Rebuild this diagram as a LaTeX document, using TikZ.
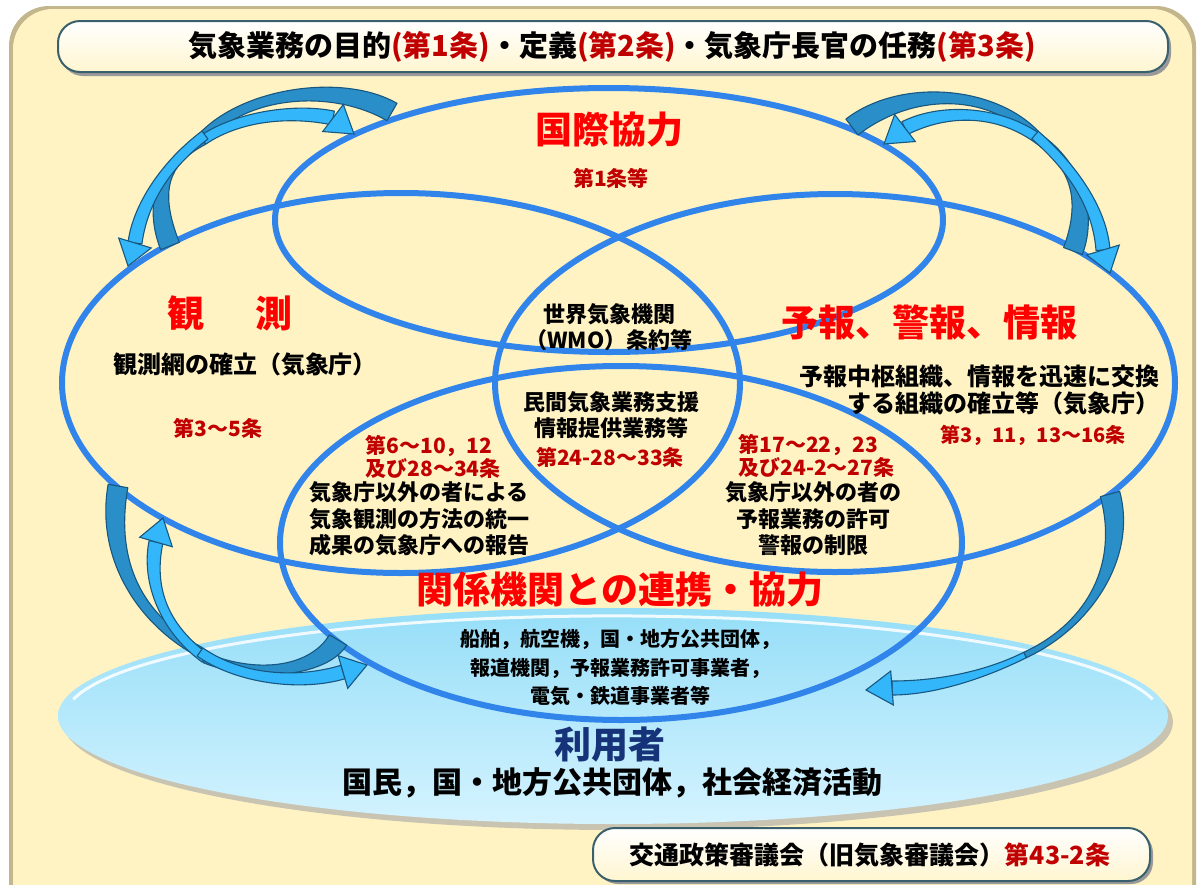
\documentclass[tikz,border=0pt]{standalone}
\usepackage{fontspec}
\setmainfont{Noto Sans CJK JP}
\usetikzlibrary{calc}
\definecolor{cream}{RGB}{255,243,196}
\definecolor{panelshadow}{RGB}{196,182,140}
\definecolor{ellblue}{RGB}{48,132,234}
\definecolor{tred}{RGB}{255,0,0}
\definecolor{dred}{RGB}{192,0,0}
\definecolor{navy}{RGB}{22,50,120}
\definecolor{arrdark}{RGB}{42,142,200}
\definecolor{arrlight}{RGB}{52,182,250}
\definecolor{arrline}{RGB}{24,88,128}
\definecolor{cyanT}{RGB}{150,222,248}
\definecolor{cyanB}{RGB}{212,243,255}
\definecolor{boxedge}{RGB}{58,96,110}
% tapered band: P0, C1, C2, P3, half-width at P0, half-width at P3, colour
\newcommand\taper[7]{\filldraw[fill=#7, draw=arrline, line width=1.1pt, line join=round]
  ($(#1)!#5!90:(#2)$) .. controls ($(#2)!#5!-90:(#1)$) and ($(#3)!#6!90:(#4)$) .. ($(#4)!#6!-90:(#3)$)
  -- ($(#4)!#6!90:(#3)$) .. controls ($(#3)!#6!-90:(#4)$) and ($(#2)!#5!90:(#1)$) .. ($(#1)!#5!-90:(#2)$) -- cycle;}
\newcommand\arrhead[2]{\filldraw[fill=arrlight, draw=arrline, line width=1.1pt, line join=miter] (#2) -- ($(#1)!17pt!90:(#2)$) -- ($(#1)!17pt!-90:(#2)$) -- cycle;}
\begin{document}
\begin{tikzpicture}[x=1pt,y=-1pt,
  ell/.style={draw=ellblue, line width=6pt},
  bigred/.style={text=tred, font=\bfseries\fontsize{37}{40}\selectfont},
  art/.style={text=dred, font=\bfseries\fontsize{21}{23}\selectfont, align=left},
  body/.style={text=black, font=\bfseries\fontsize{22}{26.5}\selectfont, align=center},
  boxsty/.style={draw=boxedge, line width=2pt, top color=white, bottom color=cream!80!white, rounded corners=22pt}]
\useasboundingbox (0,0) rectangle (1200,884);
\fill[white] (0,0) rectangle (1200,884);
% panel
\fill[panelshadow, rounded corners=40pt] (9,6) rectangle (1196,930);
\fill[cream, rounded corners=40pt] (13,9) rectangle (1192,930);
% title box
\fill[black!40, rounded corners=22pt] (61,24) rectangle (1171,76);
\draw[boxsty] (58,21) rectangle (1168,72);
\node (title) at (612,47) {\bfseries\fontsize{29}{31}\selectfont 気象業務の目的\textcolor{dred}{(第1条)}・定義\textcolor{dred}{(第2条)}・気象庁長官の任務\textcolor{dred}{(第3条)}};
% user disc
\fill[black!35, opacity=0.6] (618,722) ellipse [x radius=555, y radius=108];
\shade[top color=cyanT, bottom color=cyanB] (613,716) ellipse [x radius=555, y radius=108];
\draw[white, line width=3pt, opacity=0.85] (73.3,699.4) arc[start angle=190, end angle=350, x radius=548, y radius=101];
% ellipses
\draw[ell] (609,220) ellipse [x radius=334, y radius=132];
\draw[ell] (401,383) ellipse [x radius=339, y radius=190];
\draw[ell] (835,383) ellipse [x radius=340, y radius=189];
\draw[ell] (621,543) ellipse [x radius=341, y radius=177];
% arrows top-left
\taper{392,112}{340,82}{250,90}{205,135}{10pt}{5pt}{arrdark}
\taper{170,246}{150,195}{165,160}{203,140}{10pt}{5pt}{arrdark}
\taper{203,140}{240,115}{295,110}{333,118}{5pt}{7pt}{arrlight}
\taper{205,135}{165,165}{140,205}{135,243}{5pt}{7pt}{arrlight}
\arrhead{333,118}{354,134}
\arrhead{135,243}{128,266}
% arrows top-right
\taper{852,127}{905,86}{990,88}{1035,135}{10pt}{5pt}{arrdark}
\taper{1073,251}{1090,205}{1075,165}{1040,140}{10pt}{5pt}{arrdark}
\taper{1040,140}{1000,110}{945,108}{905,128}{5pt}{7pt}{arrlight}
\taper{1035,135}{1075,170}{1100,210}{1103,250}{5pt}{7pt}{arrlight}
\arrhead{905,128}{884,144}
\arrhead{1103,250}{1110,273}
% arrows bottom-left
\taper{118,486}{105,560}{140,620}{200,652}{10pt}{5pt}{arrdark}
\taper{338,640}{320,670}{260,680}{205,658}{10pt}{5pt}{arrdark}
\taper{205,658}{160,625}{148,580}{156,542}{5pt}{7pt}{arrlight}
\taper{200,652}{240,680}{300,685}{343,672}{5pt}{7pt}{arrlight}
\arrhead{156,542}{163,518}
\arrhead{343,672}{367,665}
% arrow bottom-right
\taper{1110,494}{1128,560}{1090,625}{1025,655}{10pt}{3pt}{arrdark}
\taper{1025,655}{985,675}{935,688}{892,688}{3pt}{7pt}{arrlight}
\arrhead{892,688}{866,690}
% texts
\node[bigred] (kokusai) at (609,130) {国際協力};
\node[art] (art1) at (611,178) {第1条等};
\node[bigred] (kansoku) at (230,313) {観\hspace{52pt}測};
\node[body, font=\bfseries\fontsize{24}{28}\selectfont] (kansokumo) at (245,365) {観測網の確立（気象庁）};
\node[art] (art35) at (218,428) {第3～5条};
\node[bigred] (yoho) at (929,322) {予報、警報、情報};
\node[body, align=right, anchor=east, font=\bfseries\fontsize{24}{27}\selectfont] (yohochu) at (1163,390) {予報中枢組織、情報を迅速に交換\\する組織の確立等（気象庁）};
\node[art, font=\bfseries\fontsize{20}{23}\selectfont] (art311) at (1033,435) {第3，11，13～16条};
\node[body] (wmo) at (609,327) {世界気象機関\\（WMO）条約等};
\node[body] (minkan) at (611,415) {民間気象業務支援\\情報提供業務等};
\node[art] (art2428) at (610,457) {第24-28～33条};
\node[art, anchor=west] (art610) at (362,457) {第6～10，12\\及び28～34条};
\node[body] (kansokuother) at (419,519) {気象庁以外の者による\\気象観測の方法の統一\\成果の気象庁への報告};
\node[art, anchor=west] (art1722) at (735,456) {第17～22，23\\及び24-2～27条};
\node[body] (yohoother) at (813,519) {気象庁以外の者の\\予報業務の許可\\警報の制限};
\node[bigred] (renkei) at (620,590) {関係機関との連携・協力};
\node[body, font=\bfseries\fontsize{20}{28.5}\selectfont] (kikan) at (620,668) {船舶，航空機，国・地方公共団体，\\報道機関，予報業務許可事業者，\\電気・鉄道事業者等};
\node[text=navy, font=\bfseries\fontsize{37}{40}\selectfont] (riyosha) at (610,745) {利用者};
\node[font=\bfseries\fontsize{30}{32}\selectfont] (kokumin) at (612,783) {国民，国・地方公共団体，社会経済活動};
% bottom box
\fill[black!40, rounded corners=22pt] (596,831) rectangle (1153,884);
\draw[boxsty] (593,828) rectangle (1150,881);
\node (council) at (870,855) {\bfseries\fontsize{25}{27}\selectfont 交通政策審議会（旧気象審議会）\textcolor{dred}{第43-2条}};
\end{tikzpicture}
\end{document}
